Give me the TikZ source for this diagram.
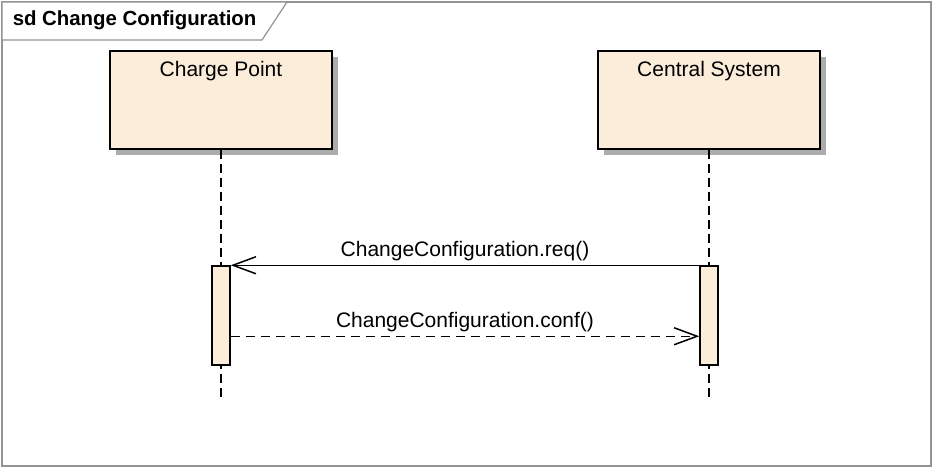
\documentclass[tikz,border=0pt]{standalone}
\usepackage{fontspec}
\setmainfont{Liberation Sans}
\usetikzlibrary{arrows.meta,positioning,calc,shadows}
\definecolor{boxfill}{RGB}{251,237,218}

\begin{document}
\begin{tikzpicture}[
    x=1pt, y=-1pt,
    >={Straight Barb[length=23pt,width=17pt]},
    line width=1.5pt,
    frame/.style={draw=gray!85, line width=1.2pt},
    lifebox/.style={draw, fill=boxfill, minimum width=222pt, minimum height=98pt,
        inner sep=4pt, font=\fontsize{21}{24}\selectfont, anchor=north,
        drop shadow={shadow xshift=6pt, shadow yshift=-6pt, fill=gray!65, opacity=1}},
    actbar/.style={draw, fill=boxfill, minimum width=18pt, minimum height=99pt, inner sep=0pt},
    lifeline/.style={dash pattern=on 9pt off 5pt},
    msg/.style={font=\fontsize{21}{24}\selectfont, above=0pt}
]

    \useasboundingbox (0,0) rectangle (936,471);

    % frame and title tab
    \draw[frame] (2,2) rectangle (931,466);
    \draw[frame, fill=white] (2,2) -- (287,2) -- (262,40) -- (2,40) -- cycle;
    \node[anchor=west, inner sep=0pt, font=\fontsize{20.4}{23}\selectfont\bfseries] (title) at (12,20) {sd Change Configuration};

    % participants
    \node[lifebox] (CP) at (221,50) {\vbox to 90pt{\vskip 7pt\hbox{Charge Point}\vfil}};
    \node[lifebox] (CS) at (709,50) {\vbox to 90pt{\vskip 7pt\hbox{Central System}\vfil}};

    \coordinate (CP_end) at (221,398);
    \coordinate (CS_end) at (709,398);

    \draw[lifeline] (CP.south) -- (CP_end);
    \draw[lifeline] (CS.south) -- (CS_end);

    % activations
    \node[actbar] (CPbar) at (221,315.5) {};
    \node[actbar] (CSbar) at (709,315.5) {};

    % messages
    \draw[->] (CSbar.north west) -- (CPbar.north east)
        node[midway, msg] {ChangeConfiguration.req()};

    \coordinate (CP_conf) at ($(CPbar.north east) + (0,71)$);
    \coordinate (CS_conf) at ($(CSbar.north west) + (0,71)$);
    \draw[->, dash pattern=on 9pt off 6pt] (CP_conf) -- (CS_conf)
        node[midway, msg] {ChangeConfiguration.conf()};

\end{tikzpicture}
\end{document}
